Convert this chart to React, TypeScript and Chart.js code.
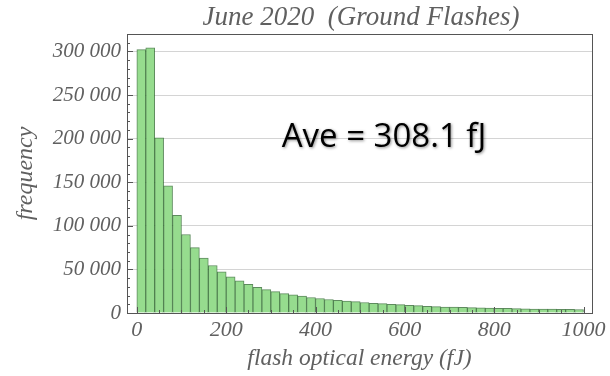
import React, { useEffect, useRef } from "react";
import { Chart, registerables } from "chart.js";

Chart.register(...registerables);

const titleText = "June 2020  (Ground Flashes)";
const xTitle = "flash optical energy (fJ)";
const yTitle = "frequency";
const annotation = "Ave = 308.1 fJ";

const binWidth = 20;
const counts = [
  302000, 304000, 201000, 146000, 112000, 90000, 75000, 63000, 54500, 47300,
  41600, 37000, 32800, 29500, 26900, 24600, 22300, 20800, 19300, 17800,
  16600, 15500, 14500, 13800, 13000, 12000, 11200, 10700, 10000, 9600,
  8900, 8400, 7700, 7300, 6900, 6800, 6500, 6100, 5800, 5700,
  5400, 5300, 5000, 4900, 4600, 4500, 4400, 4200, 4100, 4000,
];
const xTicks = [0, 200, 400, 600, 800, 1000];
const yTicks = [0, 50000, 100000, 150000, 200000, 250000, 300000];

const TEXT = "#606060";
const SERIF = "'Liberation Serif', 'DejaVu Serif', serif";

function fmt(v: number) {
  return String(v).replace(/\B(?=(\d{3})+(?!\d))/g, " ");
}

const decorPlugin = {
  id: "decor",
  afterDatasetsDraw(chart: any) {
    const { ctx, chartArea: a, scales } = chart;
    const xs = scales.x;
    const ys = scales.y;
    ctx.save();
    ctx.strokeStyle = "#555";
    ctx.lineWidth = 1;
    for (let v = 0; v <= 320000; v += 10000) {
      const y = Math.round(ys.getPixelForValue(v)) + 0.5;
      const len = v % 50000 === 0 ? 6 : 3;
      ctx.beginPath();
      ctx.moveTo(a.left, y);
      ctx.lineTo(a.left + len, y);
      ctx.stroke();
    }
    for (let v = 0; v <= 1000; v += 50) {
      const x = Math.round(xs.getPixelForValue(v)) + 0.5;
      const len = v % 200 === 0 ? 6 : 3;
      ctx.beginPath();
      ctx.moveTo(x, a.bottom);
      ctx.lineTo(x, a.bottom - len);
      ctx.stroke();
    }
    ctx.strokeStyle = "#555";
    ctx.strokeRect(Math.round(a.left) + 0.5, Math.round(a.top) + 0.5, Math.round(a.right - a.left), Math.round(a.bottom - a.top));
    ctx.fillStyle = TEXT;
    ctx.font = `italic 27px ${SERIF}`;
    ctx.textAlign = "center";
    ctx.textBaseline = "alphabetic";
    ctx.fillText(titleText, 361, 25);
    ctx.shadowColor = "rgba(0,0,0,0.45)";
    ctx.shadowBlur = 3;
    ctx.shadowOffsetX = 1;
    ctx.shadowOffsetY = 1;
    ctx.fillStyle = "#000";
    ctx.font = `33px 'Open Sans', sans-serif`;
    ctx.fillText(annotation, 384, 147);
    ctx.restore();
  },
};

export default function App() {
  const ref = useRef<HTMLCanvasElement | null>(null);
  useEffect(() => {
    if (!ref.current) return;
    const data = counts.map((c, i) => ({ x: i * binWidth + binWidth / 2, y: c }));
    const chart = new Chart(ref.current, {
      type: "bar",
      data: {
        datasets: [
          {
            data,
            backgroundColor: "rgb(150, 220, 142)",
            borderColor: "rgba(40, 100, 40, 0.75)",
            borderWidth: 1,
            barPercentage: 1,
            categoryPercentage: 1,
          },
        ],
      },
      options: {
        animation: false,
        responsive: false,
        devicePixelRatio: 1,
        layout: { padding: { top: 34, right: 18, left: 0, bottom: 0 } },
        plugins: { legend: { display: false }, tooltip: { enabled: false } },
        scales: {
          x: {
            type: "linear",
            offset: false,
            min: -22,
            max: 1019,
            grid: { display: false, drawTicks: false, offset: false },
            border: { display: false },
            afterBuildTicks: (s: any) => {
              s.ticks = xTicks.map((v) => ({ value: v }));
            },
            afterFit: (s: any) => {
              s.height = 63;
            },
            ticks: {
              color: TEXT,
              padding: 4,
              maxRotation: 0,
              autoSkip: false,
              font: { family: SERIF, style: "italic", size: 22 },
              callback: (v: any) => String(v),
            },
            title: {
              display: true,
              text: xTitle,
              color: TEXT,
              padding: { top: 0, bottom: 3 },
              font: { family: SERIF, style: "italic", size: 23.5 },
            },
          },
          y: {
            min: 0,
            max: 320000,
            grid: { color: "#d4d4d4", drawTicks: false },
            border: { display: false },
            afterBuildTicks: (s: any) => {
              s.ticks = yTicks.map((v) => ({ value: v }));
            },
            afterFit: (s: any) => {
              s.width = 127;
            },
            ticks: {
              color: TEXT,
              padding: 6,
              autoSkip: false,
              font: { family: SERIF, style: "italic", size: 21 },
              callback: (v: any) => fmt(Number(v)),
            },
            title: {
              display: true,
              text: yTitle,
              color: TEXT,
              padding: { top: 11, bottom: 0 },
              font: { family: SERIF, style: "italic", size: 24 },
            },
          },
        },
      },
      plugins: [decorPlugin],
    });
    return () => chart.destroy();
  }, []);
  return (
    <div style={{ position: "fixed", left: 0, top: 0, width: 610, height: 376, background: "#fff" }}>
      <canvas ref={ref} width={610} height={376} />
    </div>
  );
}
